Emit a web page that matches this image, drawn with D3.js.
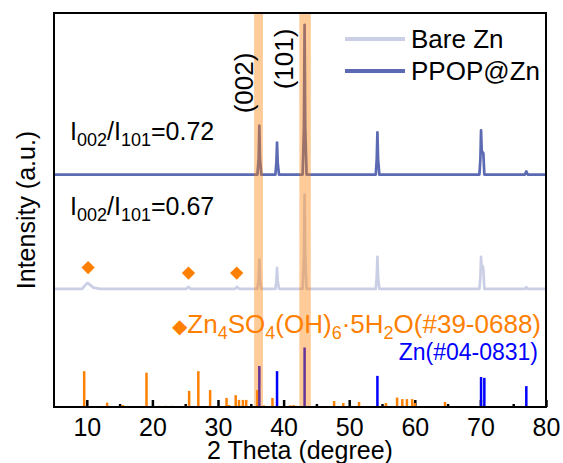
<!DOCTYPE html>
<html>
<head>
<meta charset="utf-8">
<script src="https://cdn.jsdelivr.net/npm/d3@7"></script>
<style>
  body { margin: 0; background: #fff; }
  text { font-family: "Liberation Sans", Arial, sans-serif; }
</style>
</head>
<body>
<div id="chart"></div>
<script>
// data (2theta in degrees, intensity in a.u.)
var ppopOffset = 59;
var bareOffset = 30;

var ppopPoints = [
  [5, 0], [36.0, 0], [36.2, 4], [36.3, 12.4], [36.4, 4], [36.6, 0],
  [38.75, 0], [38.9, 3], [39.0, 8.1], [39.1, 3], [39.3, 0],
  [42.9, 0], [43.1, 12], [43.2, 38], [43.3, 12], [43.5, 0],
  [54.05, 0], [54.2, 4], [54.3, 10.7], [54.4, 4], [54.6, 0],
  [69.85, 0], [70.0, 4], [70.1, 11.2], [70.2, 6], [70.35, 5.6], [70.45, 5.4], [70.6, 0],
  [76.8, 0], [77.0, 0.8], [77.2, 0], [80, 0]
];

var barePoints = [
  [5, 0], [9.3, 0], [9.8, 1], [10.1, 1.5], [10.5, 1], [11, 0.3], [12, 0],
  [25.2, 0], [25.5, 0.5], [25.8, 0],
  [32.6, 0], [32.9, 0.5], [33.2, 0],
  [36.0, 0], [36.2, 2.5], [36.3, 7.4], [36.4, 2.5], [36.6, 0],
  [38.75, 0], [38.9, 2], [39.0, 5.3], [39.1, 2], [39.3, 0],
  [42.9, 0], [43.1, 8], [43.2, 23.9], [43.3, 8], [43.5, 0],
  [54.05, 0], [54.2, 3], [54.3, 8.1], [54.4, 3], [54.6, 0],
  [69.85, 0], [70.0, 3], [70.1, 8.1], [70.2, 5], [70.35, 5.8], [70.45, 5], [70.6, 0],
  [76.8, 0], [77.0, 0.4], [77.2, 0], [80, 0]
];

// Zn4SO4(OH)6.5H2O reference card #39-0688
var zhsSticks = [
  [9.6, 9.1], [13.1, 1.1], [15.5, 0.5], [19.1, 8.7], [21.0, 0.3], [22.0, 0.3], [23.0, 0.3],
  [25.6, 4.1], [27.0, 9.1], [28.8, 4.3], [31.3, 2.3], [31.7, 0.5], [32.7, 3.0],
  [33.2, 1.8], [33.8, 1.8], [34.3, 1.8], [36.0, 4.3], [37.0, 0.4], [38.3, 2.3],
  [41.0, 0.4], [41.5, 0.5], [42.0, 0.3], [47.7, 1.5], [49.1, 1.0], [51.5, 1.3],
  [55.6, 1.0], [57.3, 2.4], [58.1, 2.0], [58.8, 2.0], [59.6, 2.0], [60.0, 1.0], [64.6, 1.3]
];

// Zn reference card #04-0831
var znSticks = [
  [36.3, 10.4], [39.0, 9.1], [43.2, 15.1], [54.3, 7.9], [70.1, 7.6], [70.6, 7.4], [77.0, 5.3]
];

var diamondPoints = [[10.2, 35.4], [25.5, 34.0], [32.85, 34.0]];
var bands = [[35.5, 36.85], [42.4, 44.15]];
var majorTicks = [10, 20, 30, 40, 50, 60, 70, 80];
var minorTicks = [15, 25, 35, 45, 55, 65, 75];

// formatting parameters
var width = 563;
var height = 463;
var margin = { top: 13, bottom: 56, left: 54, right: 17 };
var font = '"Liberation Sans", Arial, sans-serif';
var orange = "#ff8000";
var blue = "#0000ff";
var ppopColor = "#5b6ab3";
var bareColor = "#cbcfe6";

var svg = d3.select("#chart")
  .append("svg")
  .attr("width", width)
  .attr("height", height);

var x = d3.scaleLinear()
  .domain([5, 80])
  .range([margin.left, width - margin.right]);
var y = d3.scaleLinear()
  .domain([0, 100])
  .range([height - margin.bottom, margin.top]);

// inward ticks on the x axis
var xAxis = d3.axisBottom(x)
  .tickValues(majorTicks)
  .tickSize(-7)
  .tickPadding(11)
  .tickFormat(d3.format("d"));
var gx = svg.append("g")
  .attr("transform", "translate(0," + y(0) + ")")
  .call(xAxis);
gx.select(".domain").remove();
gx.selectAll("line").attr("stroke", "#000").attr("stroke-width", 2.5);
gx.selectAll("text").attr("fill", "#000").style("font-size", "25px").style("font-family", font);

var gxMinor = svg.append("g")
  .attr("transform", "translate(0," + y(0) + ")")
  .call(d3.axisBottom(x).tickValues(minorTicks).tickSize(-3).tickFormat(""));
gxMinor.select(".domain").remove();
gxMinor.selectAll("line").attr("stroke", "#000").attr("stroke-width", 2.5);

// reference sticks
svg.append("g").selectAll("line")
  .data(zhsSticks)
  .enter().append("line")
  .attr("x1", function (d) { return x(d[0]); })
  .attr("x2", function (d) { return x(d[0]); })
  .attr("y1", y(0))
  .attr("y2", function (d) { return y(d[1]); })
  .attr("stroke", orange)
  .attr("stroke-width", 2.5);

svg.append("g").selectAll("line")
  .data(znSticks)
  .enter().append("line")
  .attr("x1", function (d) { return x(d[0]); })
  .attr("x2", function (d) { return x(d[0]); })
  .attr("y1", y(0))
  .attr("y2", function (d) { return y(d[1]); })
  .attr("stroke", blue)
  .attr("stroke-width", 2.5);

// patterns
function pattern(offset) {
  return d3.line()
    .x(function (d) { return x(d[0]); })
    .y(function (d) { return y(d[1] + offset); });
}

svg.append("path")
  .datum(barePoints)
  .attr("d", pattern(bareOffset))
  .attr("fill", "none")
  .attr("stroke", bareColor)
  .attr("stroke-width", 2.7)
  .attr("stroke-linejoin", "round");

svg.append("path")
  .datum(ppopPoints)
  .attr("d", pattern(ppopOffset))
  .attr("fill", "none")
  .attr("stroke", ppopColor)
  .attr("stroke-width", 2.7)
  .attr("stroke-linejoin", "round");

// diamonds marking the by-product peaks
svg.append("g").selectAll("path")
  .data(diamondPoints)
  .enter().append("path")
  .attr("d", d3.symbol().type(d3.symbolSquare).size(88))
  .attr("transform", function (d) { return "translate(" + x(d[0]) + "," + y(d[1]) + ") rotate(45)"; })
  .attr("fill", orange);

// highlighted (002) and (101) bands
svg.append("g").selectAll("rect")
  .data(bands)
  .enter().append("rect")
  .attr("x", function (d) { return x(d[0]); })
  .attr("width", function (d) { return x(d[1]) - x(d[0]); })
  .attr("y", y(100))
  .attr("height", y(0) - y(100))
  .attr("fill", orange)
  .attr("opacity", 0.4);

// frame
svg.append("rect")
  .attr("x", x(5))
  .attr("y", y(100))
  .attr("width", x(80) - x(5))
  .attr("height", y(0) - y(100))
  .attr("fill", "none")
  .attr("stroke", "#000")
  .attr("stroke-width", 2);

// text with subscripts
function richText(parent, px, py, parts, size, subSize, color, anchor) {
  var t = parent.append("text")
    .attr("x", px)
    .attr("y", py)
    .attr("fill", color)
    .style("font-size", size + "px")
    .style("text-anchor", anchor || "start");
  var shifted = false;
  parts.forEach(function (p) {
    var s = t.append("tspan").text(p[0]);
    if (p[1] && !shifted) { s.attr("dy", 6); shifted = true; }
    if (!p[1] && shifted) { s.attr("dy", -6); shifted = false; }
    if (p[1]) s.style("font-size", subSize + "px");
    if (p[2]) s.style("font-size", p[2] + "px");
  });
  return t;
}

richText(svg, 70, 140, [["I"], ["002", 1], ["/I"], ["101", 1], ["=0.72"]], 25, 18, "#000");
richText(svg, 70, 215, [["I"], ["002", 1], ["/I"], ["101", 1], ["=0.67"]], 25, 18, "#000");

richText(svg, 541, 333,
  [["\u25C6", 0, 20], ["Zn"], ["4", 1], ["SO"], ["4", 1], ["(OH)"], ["6", 1], ["\u00B75H"], ["2", 1], ["O(#39-0688)"]],
  26, 18, orange, "end");

svg.append("text")
  .attr("x", 538)
  .attr("y", 360)
  .attr("fill", blue)
  .style("font-size", "23px")
  .style("text-anchor", "end")
  .text("Zn(#04-0831)");

// plane labels
svg.append("text")
  .attr("transform", "translate(253,83) rotate(-90)")
  .style("font-size", "26px")
  .style("text-anchor", "middle")
  .text("(002)");
svg.append("text")
  .attr("transform", "translate(293,59) rotate(-90)")
  .style("font-size", "26px")
  .style("text-anchor", "middle")
  .text("(101)");

// legend
var legend = [["Bare Zn", bareColor, 39, 48], ["PPOP@Zn", ppopColor, 71, 80]];
legend.forEach(function (l) {
  svg.append("line")
    .attr("x1", 345).attr("x2", 405)
    .attr("y1", l[2]).attr("y2", l[2])
    .attr("stroke", l[1])
    .attr("stroke-width", 4);
  svg.append("text")
    .attr("x", 411)
    .attr("y", l[3])
    .style("font-size", "26px")
    .text(l[0]);
});

// axis titles
svg.append("text")
  .attr("x", 300)
  .attr("y", 459)
  .style("font-size", "25px")
  .style("text-anchor", "middle")
  .text("2 Theta (degree)");

svg.append("text")
  .attr("transform", "translate(35,210) rotate(-90)")
  .style("font-size", "25px")
  .style("text-anchor", "middle")
  .text("Intensity (a.u.)");
</script>
</body>
</html>
